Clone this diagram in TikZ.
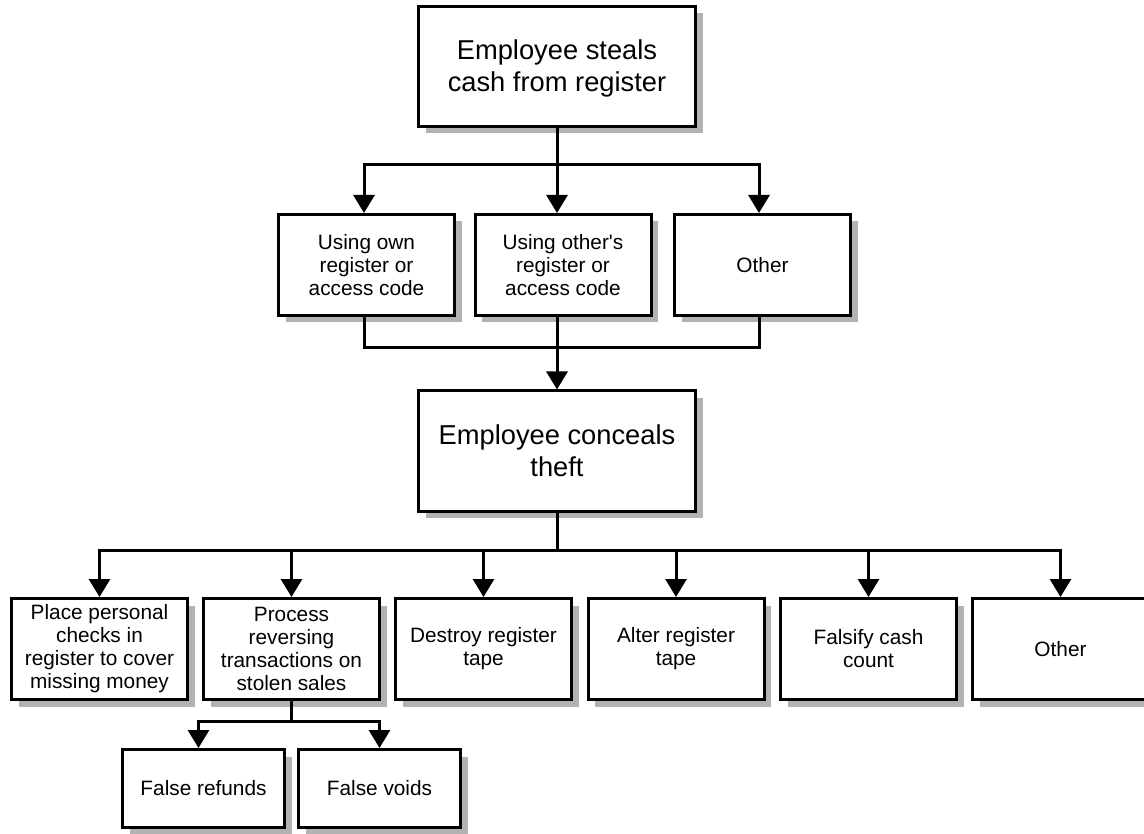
\documentclass[tikz,border=0pt]{standalone}
\usepackage{fontspec}
\setmainfont{Liberation Sans}
\usetikzlibrary{arrows.meta,shadows}
\begin{document}
\begin{tikzpicture}[x=1pt,y=-1pt,
  box/.style={draw, line width=3pt, fill=white, rectangle, inner sep=0pt, align=center,
    drop shadow={shadow xshift=7pt, shadow yshift=-7pt, fill=black!30, opacity=1}},
  bigbox/.style={box, minimum width=277pt, minimum height=120pt,
    font=\fontsize{27.3}{32}\selectfont},
  midbox/.style={box, minimum width=176pt, minimum height=101pt,
    font=\fontsize{20.8}{23}\selectfont},
  smallbox/.style={box, minimum width=162pt, minimum height=78pt,
    font=\fontsize{20.8}{23}\selectfont},
  conn/.style={line width=3pt},
  tip/.style={conn, -{Triangle[length=18pt,width=21pt]}}]

% page frame
\useasboundingbox (0,0) rectangle (1144,834);

% theft
\node[bigbox] (top) at (557,66.5)
  {\raisebox{-3pt}[\height][\depth]{\begin{tabular}{@{}c@{}}Employee steals\\cash from register\end{tabular}}};

% ways of stealing
\node[midbox] (b1) at (366.5,265) {Using own\\register or\\access code};
\node[midbox] (b2) at (563,265) {Using other\textquotesingle s\\register or\\access code};
\node[midbox] (b3) at (762.5,265) {Other};

% concealment
\node[bigbox] (mid) at (557,451) {Employee conceals\\theft};

% ways of concealing
\node[midbox] (c1) at (99.5,649) {Place personal\\checks in\\register to cover\\missing money};
\node[midbox] (c2) at (291.5,649) {Process\\reversing\\transactions on\\stolen sales};
\node[midbox] (c3) at (483.5,649) {Destroy register\\tape};
\node[midbox] (c4) at (676,649) {Alter register\\tape};
\node[midbox] (c5) at (868.5,649) {Falsify cash\\count};
\node[midbox] (c6) at (1060.5,649) {Other};

% reversing transactions
\node[smallbox] (s1) at (203.5,788.5) {False refunds};
\node[smallbox] (s2) at (379.5,788.5) {False voids};

% theft -> ways of stealing
\draw[tip] (top.south) -- ++(0,37) -| ([xshift=-2.5pt]b1.north);
\draw[tip] (top.south) -- ++(0,37) -| ([xshift=-3.5pt]b3.north);
\draw[tip] (top.south) -- ([xshift=-6pt]b2.north);

% ways of stealing -> concealment
\draw[conn] ([xshift=-2.5pt]b1.south) -- ++(0,31) -| ([xshift=-3.5pt]b3.south);
\draw[tip] ([xshift=-6pt]b2.south) -- (mid.north);

% concealment -> ways of concealing
\foreach \n in {c1,c2,c3,c4,c5,c6}
  \draw[tip] (mid.south) -- ++(0,38) -| (\n.north);

% reversing transactions -> refunds and voids
\draw[tip] (c2.south) -- ++(0,20) -| ([xshift=-5pt]s1.north);
\draw[tip] (c2.south) -- ++(0,20) -| (s2.north);
\end{tikzpicture}
\end{document}
